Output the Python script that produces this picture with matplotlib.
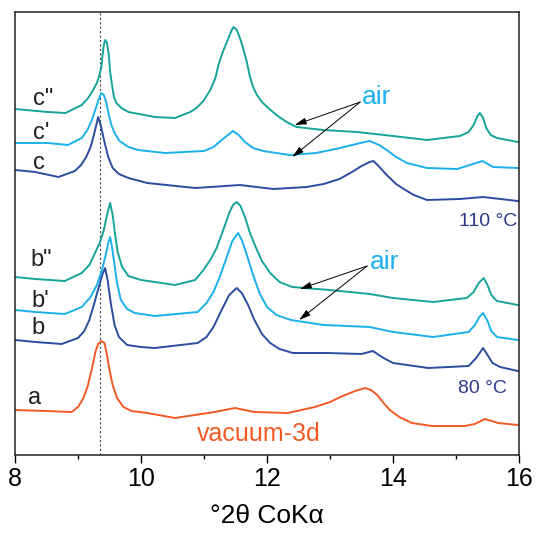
import numpy as np
import matplotlib
matplotlib.use('Agg')
import matplotlib.pyplot as plt

plt.rcParams['font.family'] = ['Liberation Sans', 'DejaVu Sans']

# XRD patterns, stacked (intensity includes the vertical offset of each trace)
x_a = [8, 8.5, 8.9, 9.0, 9.08, 9.15, 9.22, 9.28, 9.32, 9.37, 9.42, 9.46, 9.5, 9.55, 9.62, 9.72, 9.85,
       10.1, 10.54, 11.17, 11.49, 11.8, 12.33, 12.76, 13.0, 13.2, 13.4, 13.56, 13.65, 13.75, 13.85,
       13.95, 14.1, 14.3, 14.62, 15.14, 15.3, 15.46, 15.67, 15.98]
y_a = [45, 44, 43, 48, 56, 68, 86, 104, 111, 114, 112, 100, 85, 70, 57, 48, 44,
       42, 37, 43, 47, 43, 42, 48, 53, 59, 64, 67, 65, 60, 52,
       45, 38, 32, 29, 29, 31, 36, 32, 30]

x_b = [8, 8.32, 8.74, 9.0, 9.1, 9.18, 9.26, 9.33, 9.39, 9.43, 9.47, 9.52, 9.58, 9.65, 9.78, 10.0,
       10.22, 10.9, 11.04, 11.15, 11.28, 11.4, 11.52, 11.6, 11.7, 11.8, 11.92, 12.05, 12.2, 12.41,
       12.95, 13.5, 13.68, 13.85, 14.0, 14.56, 15.2, 15.32, 15.43, 15.5, 15.58, 15.7, 15.98]
y_b = [115, 113, 111, 117, 124, 135, 152, 168, 181, 187, 175, 152, 130, 118, 110, 108,
       107, 112, 118, 128, 145, 160, 167, 162, 150, 135, 121, 112, 106, 102,
       102, 101, 104, 97, 92, 87, 89, 97, 107, 100, 92, 88, 84]

x_b1 = [8, 8.32, 8.79, 9.06, 9.2, 9.3, 9.38, 9.44, 9.48, 9.51, 9.54, 9.58, 9.62, 9.68, 9.78, 9.9,
        10.22, 10.9, 11.04, 11.15, 11.25, 11.35, 11.45, 11.54, 11.6, 11.68, 11.78, 11.88, 12.0,
        12.15, 12.38, 12.9, 13.63, 14.0, 14.64, 15.2, 15.3, 15.37, 15.43, 15.5, 15.56, 15.65, 15.98]
y_b1 = [145, 143, 141, 148, 158, 170, 185, 200, 212, 218, 208, 190, 172, 155, 146, 142,
        139, 143, 152, 163, 178, 196, 214, 222, 215, 200, 180, 162, 148,
        140, 135, 130, 128, 123, 118, 123, 130, 138, 142, 134, 124, 118, 115]

x_b2 = [8, 8.32, 8.79, 9.06, 9.18, 9.27, 9.35, 9.41, 9.46, 9.51, 9.55, 9.59, 9.63, 9.7, 9.8, 10.0,
        10.22, 10.54, 10.86, 10.99, 11.1, 11.2, 11.3, 11.4, 11.46, 11.52, 11.58, 11.65, 11.73, 11.82,
        11.92, 12.05, 12.2, 12.4, 12.59, 13.0, 13.63, 14.0, 14.64, 15.17, 15.28, 15.36, 15.44, 15.5,
        15.56, 15.65, 15.98]
y_b2 = [178, 176, 174, 182, 190, 202, 213, 225, 240, 252, 240, 220, 203, 188, 179, 175,
        173, 170, 175, 185, 195, 207, 224, 242, 250, 253, 249, 238, 222, 208,
        194, 182, 173, 168, 167, 165, 161, 157, 153, 157, 163, 172, 177, 170,
        160, 154, 150]

x_c = [8, 8.32, 8.69, 8.95, 9.05, 9.13, 9.2, 9.26, 9.32, 9.36, 9.42, 9.48, 9.55, 9.65, 9.8, 10.1,
       10.86, 11.1, 11.57, 12.1, 12.63, 12.9, 13.15, 13.35, 13.5, 13.63, 13.69, 13.8, 13.9, 14.05,
       14.17, 14.33, 14.54, 15.06, 15.43, 15.98]
y_c = [285, 283, 278, 284, 290, 298, 308, 322, 338, 330, 313, 298, 287, 281, 277, 272,
       267, 268, 270, 266, 268, 271, 276, 283, 289, 293, 294, 287, 280, 271,
       266, 260, 255, 256, 258, 254]

x_c1 = [8, 8.52, 8.84, 9.06, 9.15, 9.22, 9.28, 9.33, 9.37, 9.41, 9.45, 9.49, 9.53, 9.58, 9.66, 9.8,
        9.95, 10.38, 11.0, 11.15, 11.28, 11.38, 11.46, 11.55, 11.65, 11.78, 11.94, 12.36, 12.78,
        13.16, 13.48, 13.63, 13.78, 13.9, 14.05, 14.22, 14.54, 15.02, 15.22, 15.42, 15.59, 15.98]
y_c1 = [312, 312, 310, 317, 325, 335, 346, 356, 362, 360, 352, 340, 330, 322, 314, 308,
        305, 302, 304, 308, 315, 320, 324, 320, 313, 307, 304, 300, 302,
        307, 312, 314, 310, 305, 298, 292, 287, 286, 290, 294, 288, 287]

x_c2 = [8, 8.52, 8.8, 9.06, 9.16, 9.24, 9.3, 9.33, 9.37, 9.39, 9.41, 9.43, 9.46, 9.49, 9.51, 9.54,
        9.57, 9.61, 9.69, 9.8, 10.22, 10.54, 10.78, 10.88, 10.99, 11.1, 11.18, 11.23, 11.28, 11.33,
        11.39, 11.44, 11.47, 11.52, 11.57, 11.62, 11.68, 11.73, 11.78, 11.84, 11.92, 12.02, 12.15,
        12.31, 12.47, 12.89, 13.43, 14.0, 14.54, 15.06, 15.2, 15.28, 15.34, 15.38, 15.43, 15.48,
        15.55, 15.65, 15.98]
y_c2 = [346, 343, 342, 350, 357, 365, 372, 378, 387, 400, 410, 415, 412, 400, 383, 370,
        358, 352, 347, 343, 338, 337, 343, 347, 354, 365, 377, 390, 400, 408,
        417, 425, 428, 425, 417, 407, 393, 378, 368, 360, 353, 347, 340,
        333, 328, 325, 323, 319, 315, 319, 323, 330, 339, 342, 337, 327,
        320, 317, 313]

teal = '#17a398'
sky = '#1cb0ea'
navy = '#2a4d9f'
orange = '#f15a24'

fig = plt.figure(figsize=(5.38, 5.40), dpi=100)
ax = fig.add_axes([15 / 538, 85 / 540, 504 / 538, 443 / 540])

ax.axvline(9.35, color='#444444', ls=(0, (2, 2)), lw=0.8)

for xs, ys, col in [(x_a, y_a, orange), (x_b, y_b, navy), (x_b1, y_b1, sky), (x_b2, y_b2, teal),
                    (x_c, y_c, navy), (x_c1, y_c1, sky), (x_c2, y_c2, teal)]:
    ax.plot(xs, ys, color=col, lw=1.4)

ax.set_xlim(8, 16)
ax.set_ylim(0, 443)
ax.set_yticks([])
ax.set_xticks([8, 10, 12, 14, 16])
ax.set_xticks([9, 11, 13, 15], minor=True)
ax.tick_params(axis='x', which='major', direction='out', length=6, width=1, labelsize=18, pad=3)
ax.tick_params(axis='x', which='minor', direction='out', length=3, width=1)
for s in ax.spines.values():
    s.set_linewidth(1.1)
    s.set_color('#231f20')
ax.set_xlabel('°2θ CoKα', fontsize=19, labelpad=9)

# curve labels
lab = dict(fontsize=17, color='#231f20', ha='left', va='baseline')
ax.text(8.29, 350, 'c"', **lab)
ax.text(8.28, 316, "c'", **lab)
ax.text(8.28, 286, 'c', **lab)
ax.text(8.24, 189, 'b"', **lab)
ax.text(8.26, 148, "b'", **lab)
ax.text(8.26, 121, 'b', **lab)
ax.text(8.21, 51, 'a', **lab)

ax.text(13.51, 351, 'air', fontsize=19, color=sky, va='baseline')
ax.text(13.63, 186, 'air', fontsize=19, color=sky, va='baseline')
ax.text(15.97, 229, '110 °C', fontsize=14, color='#2e3a8c', ha='right', va='baseline')
ax.text(15.81, 62, '80 °C', fontsize=14, color='#2e3a8c', ha='right', va='baseline')
ax.text(10.89, 14, 'vacuum-3d', fontsize=18, color=orange, va='baseline')

arr = dict(arrowstyle='-|>,head_length=0.7,head_width=0.2', color='black', lw=0.7,
           shrinkA=0, shrinkB=0)
ax.annotate('', xy=(12.44, 330), xytext=(13.48, 353), arrowprops=arr)
ax.annotate('', xy=(12.40, 298), xytext=(13.48, 353), arrowprops=arr)
ax.annotate('', xy=(12.52, 166), xytext=(13.59, 189), arrowprops=arr)
ax.annotate('', xy=(12.51, 135), xytext=(13.59, 189), arrowprops=arr)

fig.savefig('out.png', dpi=100)
